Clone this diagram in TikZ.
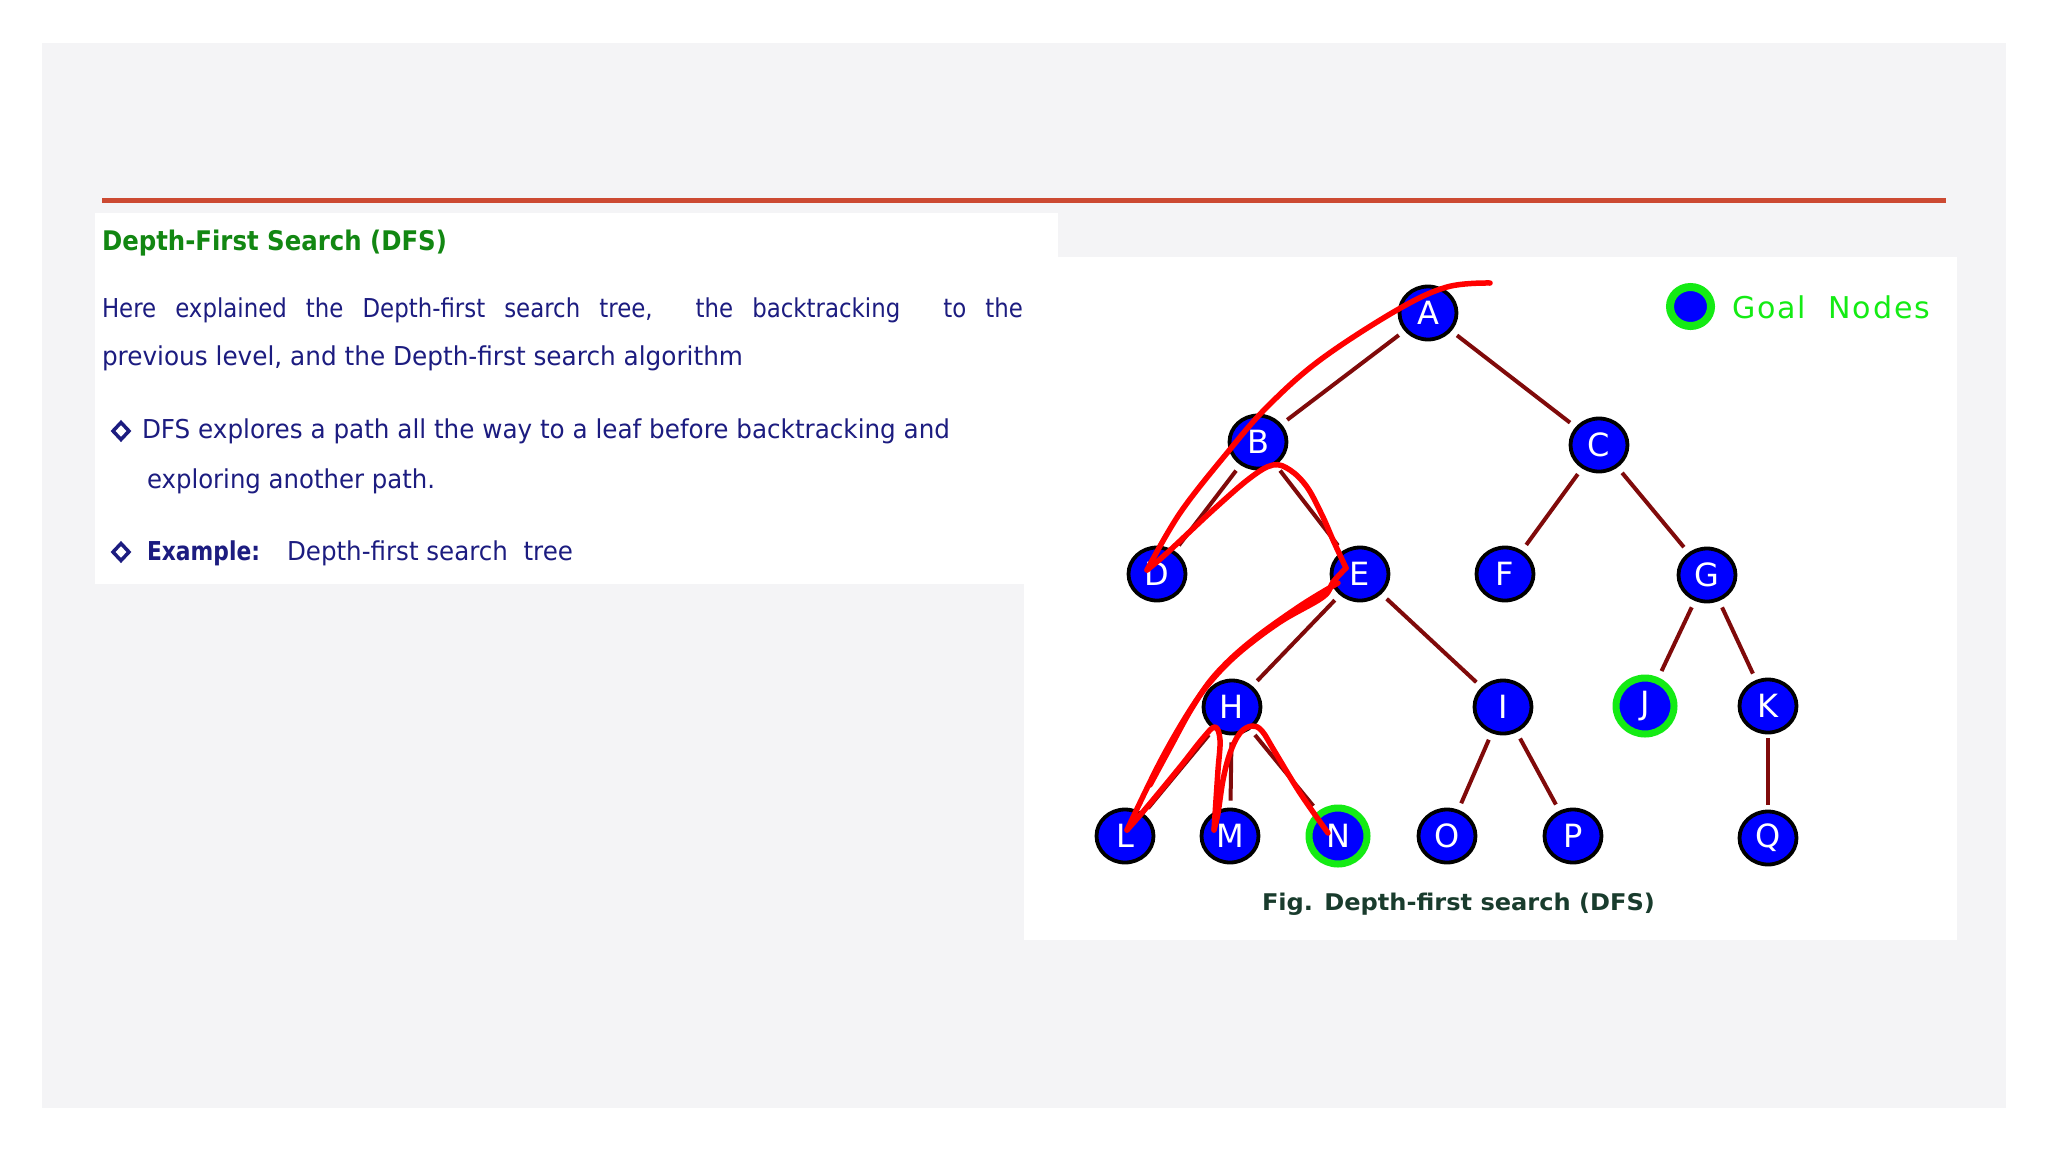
\documentclass[tikz,border=0pt]{standalone}
\usepackage{fontspec}
\usepackage{graphicx}
\usetikzlibrary{shapes.geometric}
\setmainfont{DejaVu Sans}
\newfontfamily\tah[FakeStretch=0.88]{DejaVu Sans}
\newfontfamily\verd{DejaVu Sans}
\newfontfamily\goalf[LetterSpace=6]{DejaVu Sans}
\newcommand{\fitto}[2]{\resizebox{#1}{\height}{#2}}
\definecolor{panelgray}{RGB}{244,244,246}
\definecolor{titlegreen}{RGB}{18,135,18}
\definecolor{navy}{RGB}{28,28,128}
\definecolor{rulered}{RGB}{204,74,50}
\definecolor{edgered}{RGB}{128,10,10}
\definecolor{nodeblue}{RGB}{0,0,255}
\definecolor{goalgreen}{RGB}{20,235,20}
\definecolor{captiongreen}{RGB}{25,60,45}
\definecolor{dfsred}{RGB}{255,0,0}
\begin{document}
\begin{tikzpicture}[x=1pt,y=-1pt,
  txt/.style={anchor=base west, inner sep=0pt, outer sep=0pt, text=navy},
  tnode/.style={ellipse, draw=black, line width=3.8pt, fill=nodeblue, minimum width=57pt, minimum height=53pt, inner sep=0pt, text=white, font={\verd\fontsize{32pt}{32pt}\selectfont}},
  goal/.style={tnode, draw=goalgreen, line width=7pt, minimum width=58pt, minimum height=56pt},
  treeline/.style={draw=edgered, line width=4pt, shorten >=7pt, shorten <=7pt},
  dfs/.style={draw=dfsred, line width=5.5pt, line cap=round, line join=round},
  bulletdia/.style={draw=navy, line width=3.5pt, line join=miter}
]
\useasboundingbox (0,0) rectangle (2048,1152);
\fill[white] (0,0) rectangle (2048,1152);
\fill[panelgray] (42,43) rectangle (2006,1108);
\fill[white] (95,213) rectangle (1058,584);
\fill[white] (1024,257) rectangle (1957,940);
\draw[rulered, line width=4.5pt] (102,200.5) -- (1946,200.5);

% left text
\node[txt, text=titlegreen] (title) at (102,250) {\fitto{345pt}{\tah\bfseries\fontsize{27pt}{30pt}\selectfont Depth-First Search (DFS)}};
\node[txt] (l1) at (102,317) {\tah\fontsize{26pt}{30pt}\selectfont\makebox[921pt][s]{Here explained the Depth-first search tree,\hspace*{24pt} the backtracking\hspace*{24pt} to the}};
\node[txt] (l2) at (102,365) {\fitto{641pt}{\tah\fontsize{26pt}{30pt}\selectfont previous level, and the Depth-first search algorithm}};
\draw[bulletdia] (121,422.5) -- (129,431) -- (121,439.5) -- (113,431) -- cycle;
\node[txt] (b1) at (142,438) {\fitto{808pt}{\tah\fontsize{26pt}{30pt}\selectfont DFS explores a path all the way to a leaf before backtracking and}};
\node[txt] (b1b) at (147,488) {\fitto{288pt}{\tah\fontsize{26pt}{30pt}\selectfont exploring another path.}};
\draw[bulletdia] (121,543.5) -- (129,552) -- (121,560.5) -- (113,552) -- cycle;
\node[txt] (ex) at (147,560) {\fitto{113pt}{\tah\bfseries\fontsize{26pt}{30pt}\selectfont Example:}};
\node[txt] (ext) at (287,560) {\fitto{286pt}{\tah\fontsize{26pt}{30pt}\selectfont Depth-first search\ \ tree}};

% legend
\node[ellipse, draw=goalgreen, line width=8pt, fill=nodeblue, minimum width=41pt, minimum height=39pt, inner sep=0pt] (leg) at (1690.5,306.5) {};
\node[txt, text=goalgreen] (legt) at (1732,318) {\fitto{198pt}{\goalf\fontsize{30pt}{32pt}\selectfont Goal\ \ Nodes}};

% tree nodes
\node[tnode] (A) at (1428,313) {A};
\node[tnode] (B) at (1258,442) {B};
\node[tnode] (C) at (1599,445) {C};
\node[tnode] (D) at (1157,574) {D};
\node[tnode] (E) at (1360,574) {E};
\node[tnode] (F) at (1505,574) {F};
\node[tnode] (G) at (1707,575) {G};
\node[tnode] (H) at (1232,707) {H};
\node[tnode] (I) at (1503,707) {I};
\node[goal]  (J) at (1645,706) {J};
\node[tnode] (K) at (1768,706) {K};
\node[tnode] (L) at (1125,836) {L};
\node[tnode] (M) at (1230,836) {M};
\node[goal]  (N) at (1338,836) {N};
\node[tnode] (O) at (1447,836) {O};
\node[tnode] (P) at (1573,836) {P};
\node[tnode] (Q) at (1768,838) {Q};

\foreach \u/\v in {A/B,A/C,B/D,B/E,C/F,C/G,E/H,E/I,G/J,G/K,H/L,H/M,H/N,I/O,I/P}
  \draw[treeline] (\u) -- (\v);
\draw[treeline, shorten <=4pt, shorten >=5pt] (K) -- (Q);

% caption
\node[txt, text=captiongreen] (cap) at (1262,910) {\fitto{393pt}{\verd\bfseries\fontsize{23pt}{26pt}\selectfont Fig. Depth-first search (DFS)}};

% DFS traversal sketch
\draw[dfs] plot[smooth, tension=0.6] coordinates {(1490,283) (1447,287) (1397,310) (1320,360) (1267,407) (1227,453) (1180,513) (1147,570)};
\draw[dfs] plot[smooth, tension=0.6] coordinates {(1147,570) (1167,553) (1213,510) (1250,478) (1273,465) (1290,470) (1307,487) (1322,515) (1333,540) (1346,568)};
\draw[dfs] plot[smooth, tension=0.6] coordinates {(1346,568) (1333,582) (1323,597) (1280,622) (1240,652) (1212,680) (1190,710) (1160,762) (1127,830)};
\draw[dfs] plot[smooth, tension=0.6] coordinates {(1338,583) (1300,606) (1250,642) (1215,675) (1192,708) (1170,748) (1150,785)};
\draw[dfs] plot[smooth, tension=0.6] coordinates {(1127,830) (1147,807) (1180,767) (1203,738) (1215,727) (1220,740) (1218,770) (1216,800) (1214,830)};
\draw[dfs] plot[smooth, tension=0.6] coordinates {(1214,830) (1218,813) (1223,780) (1230,753) (1240,733) (1252,726) (1262,731) (1275,752) (1300,793) (1328,833)};
\end{tikzpicture}
\end{document}
